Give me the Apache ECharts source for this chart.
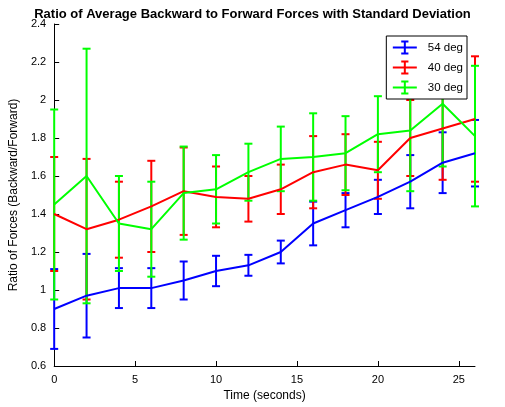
<!DOCTYPE html><html><head><meta charset="utf-8"><script src="https://cdn.jsdelivr.net/npm/echarts@6/dist/echarts.min.js"></script></head><body style="margin:0;background:#fff"><div id="c" style="width:505px;height:407px"></div><script>
const times=[0,2,4,6,8,10,12,14,16,18,20,22,24,26];
const blue=[0.90,0.97,1.01,1.01,1.05,1.10,1.13,1.20,1.35,1.42,1.49,1.57,1.67,1.72];
const blueErr=[0.21,0.22,0.105,0.105,0.10,0.08,0.055,0.06,0.115,0.09,0.09,0.14,0.16,0.175];
const red=[1.40,1.32,1.37,1.44,1.52,1.49,1.48,1.53,1.62,1.66,1.63,1.80,1.85,1.90];
const redErr=[0.30,0.37,0.20,0.24,0.23,0.16,0.12,0.13,0.19,0.16,0.15,0.20,0.27,0.33];
const green=[1.45,1.60,1.35,1.32,1.51,1.53,1.62,1.69,1.70,1.72,1.82,1.84,1.98,1.81];
const greenErr=[0.50,0.67,0.25,0.25,0.245,0.18,0.15,0.17,0.23,0.195,0.20,0.32,0.33,0.37];
const names=['54 deg','40 deg','30 deg'];
const colors=['#0000ff','#ff0000','#00ff00'];
const vals=[blue,red,green],errs=[blueErr,redErr,greenErr];
const series=[];
vals.forEach((v,k)=>{
  series.push({name:names[k],type:'line',data:times.map((t,i)=>[t,v[i]]),symbol:'none',lineStyle:{color:colors[k],width:2},itemStyle:{color:colors[k]},z:3});
  series.push({name:names[k],type:'custom',data:times.map((t,i)=>[t,v[i]-errs[k][i],v[i]+errs[k][i]]),z:2,
    renderItem:(p,api)=>{const lo=api.coord([api.value(0),api.value(1)]),hi=api.coord([api.value(0),api.value(2)]);const w=4;
      const st={stroke:colors[k],lineWidth:2};
      return {type:'group',children:[{type:'line',shape:{x1:lo[0],y1:lo[1],x2:hi[0],y2:hi[1]},style:st},{type:'line',shape:{x1:lo[0]-w,y1:lo[1],x2:lo[0]+w,y2:lo[1]},style:st},{type:'line',shape:{x1:hi[0]-w,y1:hi[1],x2:hi[0]+w,y2:hi[1]},style:st}]};}});
});
const ch=echarts.init(document.getElementById('c'));
ch.setOption({animation:false,
title:{text:'Ratio of Average Backward to Forward Forces with Standard Deviation',left:'center',top:3,textStyle:{fontSize:13,fontWeight:'bold',color:'#000',fontFamily:'Arial, Liberation Sans'}},
legend:{data:names.map((n,k)=>({name:n,icon:'path://M0,5L20,5M10,0L10,10M7,0L13,0M7,10L13,10',itemStyle:{color:'none',borderColor:colors[k],borderWidth:2}})),orient:'vertical',right:38,top:36,itemWidth:36,itemHeight:12,itemGap:3,borderColor:'#000',borderWidth:1,padding:[3,4],backgroundColor:'#fff',textStyle:{fontSize:11.5,fontFamily:'Arial, Liberation Sans',color:'#000'}},
grid:{left:48,right:30,top:24,bottom:41},
xAxis:{type:'value',min:0,max:26,interval:5,name:'Time (seconds)',nameLocation:'middle',nameGap:22,nameTextStyle:{fontSize:12,color:'#000'},axisLine:{lineStyle:{color:'#000'}},axisTick:{inside:true},axisLabel:{color:'#000',fontSize:11,showMaxLabel:false},splitLine:{show:false}},
yAxis:{type:'value',min:0.6,max:2.4,interval:0.2,name:'Ratio of Forces (Backward/Forward)',nameLocation:'middle',nameGap:30,nameTextStyle:{fontSize:12,color:'#000'},axisLine:{show:true,lineStyle:{color:'#000'}},axisTick:{inside:true},axisLabel:{color:'#000',fontSize:11,formatter:v=>String(Math.round(v*10)/10)},splitLine:{show:false}},
series});
</script></body></html>
